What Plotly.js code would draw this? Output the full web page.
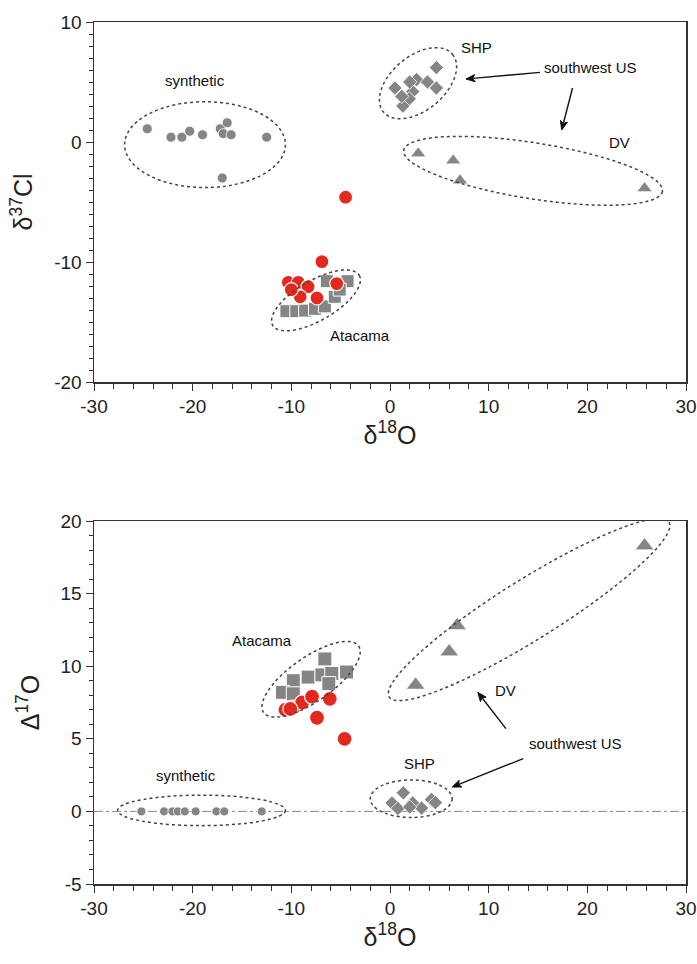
<!DOCTYPE html>
<html><head><meta charset="utf-8">
<script src="https://cdn.plot.ly/plotly-3.0.1.min.js"></script>
<style>html,body{margin:0;padding:0;background:#fff}</style>
</head><body><div id="chart" style="width:697px;height:964px"></div>
<script>
// ---- Top panel: d18O vs d37Cl ----
const synTopX = [-24.6,-22.2,-21.1,-20.3,-19.0,-17.2,-16.5,-16.9,-16.1,-12.5,-17.0];
const synTopY = [1.1,0.4,0.4,0.9,0.6,1.1,1.6,0.7,0.6,0.4,-3.0];
const shpTopX = [4.7,2.7,3.8,4.7,0.5,2.3,1.95,1.3,2.0,1.2];
const shpTopY = [6.2,5.2,5.0,4.5,4.5,4.2,3.6,3.0,5.0,3.8];
const dvTopX = [2.86,6.4,7.1,25.8];
const dvTopY = [-0.95,-1.55,-3.2,-3.86];
const ataSqTopX = [-10.5,-9.5,-8.6,-7.6,-6.6,-5.6,-6.4,-4.3,-5.1];
const ataSqTopY = [-14.1,-14.1,-14.05,-13.9,-13.7,-12.9,-11.6,-11.6,-12.3];
const ataRedTopX = [-6.9,-10.3,-9.3,-8.3,-9.1,-7.4,-5.4,-10.0,-4.5];
const ataRedTopY = [-9.97,-11.7,-11.7,-12.06,-12.9,-13.0,-11.8,-12.3,-4.6];
// ---- Bottom panel: d18O vs D17O ----
const synBotX = [-25.2,-22.9,-22.05,-21.5,-20.8,-19.7,-17.6,-16.8,-13.0];
const synBotY = [0,0,0,0,0,0,0,0,0];
const shpBotX = [1.35,0.2,2.3,3.2,4.2,0.8,2.0,4.6];
const shpBotY = [1.28,0.58,0.58,0.23,0.82,0.2,0.3,0.6];
const dvBotX = [2.6,6.0,6.8,25.8];
const dvBotY = [8.7,11.0,12.8,18.3];
const ataSqBotX = [-6.6,-9.8,-8.3,-6.9,-5.9,-4.4,-6.2,-10.9,-9.8];
const ataSqBotY = [10.5,9.0,9.25,9.4,9.5,9.6,8.8,8.2,8.1];
const ataRedBotX = [-10.6,-9.8,-8.9,-7.9,-6.1,-7.4,-10.1,-4.6];
const ataRedBotY = [7.0,7.15,7.5,7.9,7.75,6.45,7.06,5.0];
// ---- tick labels ----
const xTickVals = [-30,-20,-10,0,10,20,30];
const xTickText = ['-30','-20','-10','0','10','20','30'];
const yTopTickVals = [-20,-10,0,10];
const yTopTickText = ['-20','-10','0','10'];
const yBotTickVals = [-5,0,5,10,15,20];
const yBotTickText = ['-5','0','5','10','15','20'];

const W=697,H=964, mL=94, mR=11, mT=22, mB=80;
const plotW=W-mL-mR, plotH=H-mT-mB;
const topBotPx=382, botTopPx=521;
const topDom=[(H-mB-topBotPx)/plotH,1];
const botDom=[0,(H-mB-botTopPx)/plotH];
const sx = plotW/60;
const syTop = (topBotPx-mT)/30;
const syBot = (H-mB-botTopPx)/25;

const gray='#858585', red='#e3291d';
function tr(x,y,sym,size,color,xa,ya,lw){
  return {x:x,y:y,type:'scatter',mode:'markers',xaxis:xa,yaxis:ya,showlegend:false,
    marker:{symbol:sym,size:size,color:color,line:{color:'#fff',width:lw}}};
}
const data=[
  tr(synTopX,synTopY,'circle',10,gray,'x','y',0.8),
  tr(shpTopX,shpTopY,'diamond',11,gray,'x','y',0.8),
  tr(dvTopX,dvTopY,'triangle-up',13,gray,'x','y',0.5),
  tr(ataSqTopX,ataSqTopY,'square',13,gray,'x','y',1),
  tr(ataRedTopX,ataRedTopY,'circle',14,red,'x','y',1.2),
  tr(synBotX,synBotY,'circle',9,gray,'x2','y2',0.8),
  tr(shpBotX,shpBotY,'diamond',11,gray,'x2','y2',0.8),
  tr(dvBotX,dvBotY,'triangle-up',16,gray,'x2','y2',0.5),
  tr(ataSqBotX,ataSqBotY,'square',14,gray,'x2','y2',1),
  tr(ataRedBotX,ataRedBotY,'circle',15,red,'x2','y2',1.2)
];

function ellPath(cx,cy,a,b,th,sy){
  const t0=th*Math.PI/180; let p='';
  for(let i=0;i<=90;i++){
    const t=2*Math.PI*i/90, ex=a*Math.cos(t), ey=b*Math.sin(t);
    const dx=ex*Math.cos(t0)-ey*Math.sin(t0), dy=ex*Math.sin(t0)+ey*Math.cos(t0);
    p+=(i?'L':'M')+(cx+dx/sx).toFixed(3)+','+(cy-dy/sy).toFixed(3);
  }
  return p+'Z';
}
// arrow from tail (ax,ay) to head (x,y), in data units, head drawn in pixel geometry
function arrowShapes(x,y,ax,ay,xr,yr,sy){
  const dxp=(x-ax)*sx, dyp=-(y-ay)*sy, L=Math.hypot(dxp,dyp);
  const ux=dxp/L, uy=dyp/L, hl=9, hw=3.6;
  const bx=-ux*hl, by=-uy*hl;
  const p1=[bx - uy*hw, by + ux*hw], p2=[bx + uy*hw, by - ux*hw];
  const toD=(px,py)=>(x+px/sx).toFixed(3)+','+(y-py/sy).toFixed(3);
  const bxD=x+(bx*0.8)/sx, byD=y-(by*0.8)/sy;
  return [
    {type:'line',xref:xr,yref:yr,x0:ax,y0:ay,x1:bxD,y1:byD,line:{color:'#111',width:1.4}},
    {type:'path',xref:xr,yref:yr,path:'M'+toD(0,0)+'L'+toD(p1[0],p1[1])+'L'+toD(bx*0.75,by*0.75)+'L'+toD(p2[0],p2[1])+'Z',fillcolor:'#111',line:{color:'#111',width:1}}
  ];
}
const eLine={color:'#444',width:1.5,dash:'dot'};
const shapes=[
  {type:'circle',xref:'x',yref:'y',x0:-26.9,x1:-10.6,y0:-3.8,y1:3.36,line:eLine},
  {type:'path',xref:'x',yref:'y',path:ellPath(2.84,4.9,45,27,-40,syTop),line:eLine},
  {type:'path',xref:'x',yref:'y',path:ellPath(14.5,-2.4,131,28,9,syTop),line:eLine},
  {type:'path',xref:'x',yref:'y',path:ellPath(-7.5,-13.2,50,20,-30,syTop),line:eLine},
  {type:'line',xref:'x2',yref:'y2',x0:-30,x1:30,y0:0,y1:0,line:{color:'#888',width:1,dash:'dashdot'},layer:'below'},
  {type:'circle',xref:'x2',yref:'y2',x0:-27.6,x1:-10.6,y0:-0.98,y1:1.12,line:eLine},
  {type:'circle',xref:'x2',yref:'y2',x0:-2.0,x1:6.3,y0:-0.42,y1:2.17,line:eLine},
  {type:'path',xref:'x2',yref:'y2',path:ellPath(-8.0,9.1,58,22,-35,syBot),line:eLine},
  {type:'path',xref:'x2',yref:'y2',path:ellPath(14.1,13.9,165,30,-32,syBot),line:eLine}
].concat(
  arrowShapes(7.7,5.25,15.2,5.8,'x','y',syTop),
  arrowShapes(17.4,1.0,18.5,4.5,'x','y',syTop),
  arrowShapes(8.9,8.2,11.75,5.7,'x2','y2',syBot),
  arrowShapes(6.3,1.68,13.5,3.64,'x2','y2',syBot)
);
const af={family:'Liberation Sans, Arial, sans-serif',size:15,color:'#111'};
function txt(x,y,t,xr,yr){return {x:x,y:y,xref:xr,yref:yr,text:t,showarrow:false,font:af};}
const annotations=[
  txt(-19.75,5.1,'synthetic','x','y'),
  txt(8.8,7.9,'SHP','x','y'),
  txt(20.3,6.25,'southwest US','x','y'),
  txt(23.3,0.0,'DV','x','y'),
  txt(-3.0,-16.1,'Atacama','x','y'),
  txt(-13.0,11.8,'Atacama','x2','y2'),
  txt(11.75,8.3,'DV','x2','y2'),
  txt(18.85,4.7,'southwest US','x2','y2'),
  txt(3.0,3.3,'SHP','x2','y2'),
  txt(-20.7,2.45,'synthetic','x2','y2')
];
const tf={family:'Liberation Sans, Arial, sans-serif',size:19,color:'#222'};
const ttl={family:'Liberation Sans, Arial, sans-serif',size:25,color:'#222'};
function xax(anchor){return {domain:[0,1],anchor:anchor,range:[-30,30],tickmode:'array',tickvals:xTickVals,ticktext:xTickText,ticks:'outside',ticklen:7,tickcolor:'#333',
  minor:{dtick:2,tick0:0,ticks:'outside',ticklen:5,tickcolor:'#333'},showline:true,linecolor:'#333',linewidth:1.5,mirror:true,
  zeroline:false,showgrid:false,tickfont:tf,title:{text:'δ<sup>18</sup>O',font:ttl,standoff:8}};}
function yax(anchor,dom,rng,tv,tt,t){return {domain:dom,anchor:anchor,range:rng,tickmode:'array',tickvals:tv,ticktext:tt,ticks:'outside',ticklen:7,tickcolor:'#333',
  minor:{dtick:1,tick0:0,ticks:'outside',ticklen:4,tickcolor:'#333'},showline:true,linecolor:'#333',linewidth:1.5,mirror:true,
  zeroline:false,showgrid:false,tickfont:tf,title:{text:t,font:ttl,standoff:14}};}
const layout={width:W,height:H,margin:{l:mL,r:mR,t:mT,b:mB},paper_bgcolor:'#fff',plot_bgcolor:'#fff',showlegend:false,
  xaxis:xax('y'),yaxis:yax('x',topDom,[-20,10],yTopTickVals,yTopTickText,'δ<sup>37</sup>Cl'),
  xaxis2:xax('y2'),yaxis2:yax('x2',botDom,[-5,20],yBotTickVals,yBotTickText,'Δ<sup>17</sup>O'),
  shapes:shapes,annotations:annotations};
Plotly.newPlot('chart',data,layout,{displayModeBar:false,staticPlot:true});
</script></body></html>
